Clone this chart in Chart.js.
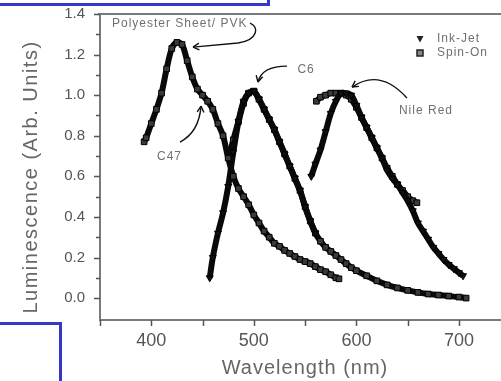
<!DOCTYPE html>
<html>
<head>
<meta charset="utf-8">
<script src="https://cdn.jsdelivr.net/npm/chart.js"></script>
<style>
  html, body { margin: 0; padding: 0; background: #fff; }
  #wrap { position: relative; width: 501px; height: 381px; overflow: hidden; }
  #chart { position: absolute; left: 0; top: 0; }
  .frame { position: absolute; background: #3636c8; }
</style>
</head>
<body>
<div id="wrap">
  <canvas id="chart" width="501" height="381"></canvas>
  <div class="frame" style="left:0;top:3px;width:270px;height:3px"></div>
  <div class="frame" style="left:267px;top:0;width:3px;height:6px"></div>
  <div class="frame" style="left:0;top:322px;width:62px;height:3px"></div>
  <div class="frame" style="left:59px;top:322px;width:3px;height:59px"></div>
</div>
<script>
// C47 on polyester sheet / PVK, spin-on
const c47Nm = [393, 395, 400, 405, 410, 415, 420, 425, 430, 435, 440, 445, 450, 455, 460, 465, 470, 475, 480, 485,
  490, 495, 500, 505, 510, 515, 520, 525, 530, 535, 540, 545, 550, 555, 560, 565, 570, 575, 580, 583];
const c47Lum = [0.77, 0.79, 0.86, 0.93, 1.01, 1.13, 1.23, 1.26, 1.25, 1.17, 1.09, 1.03, 1.00, 0.97, 0.93, 0.86, 0.80, 0.69, 0.60, 0.54,
  0.50, 0.46, 0.41, 0.37, 0.33, 0.30, 0.27, 0.255, 0.235, 0.22, 0.205, 0.19, 0.18, 0.17, 0.155, 0.14, 0.13, 0.115, 0.10, 0.095];

// C6, ink-jet
const c6InkNm = [457, 460, 465, 470, 475, 480, 485, 490, 495, 500, 505, 510, 515, 520, 525, 530, 535, 540, 545, 550, 555, 560];
const c6InkLum = [0.10, 0.20, 0.32, 0.42, 0.55, 0.72, 0.87, 0.97, 1.01, 1.02, 0.98, 0.93, 0.88, 0.83, 0.77, 0.71, 0.65, 0.59, 0.53, 0.45, 0.38, 0.32];

// C6, spin-on
const c6SpinNm = [476, 480, 485, 490, 495, 500, 505, 510, 515, 520, 525, 530, 535, 540, 545, 550, 555, 560, 565, 570,
  575, 580, 585, 590, 595, 600, 610, 620, 630, 640, 650, 660, 670, 680, 690, 700, 707];
const c6SpinLum = [0.70, 0.78, 0.87, 0.96, 1.01, 1.02, 0.98, 0.93, 0.88, 0.83, 0.77, 0.71, 0.65, 0.59, 0.53, 0.45, 0.38, 0.32, 0.28, 0.25,
  0.23, 0.21, 0.19, 0.17, 0.15, 0.135, 0.11, 0.085, 0.065, 0.05, 0.038, 0.028, 0.02, 0.015, 0.01, 0.005, 0.0];

// Nile Red, ink-jet
const nileInkNm = [556, 560, 565, 570, 575, 580, 585, 590, 595, 600, 605, 610, 615, 620, 625, 630, 635, 640, 645, 650,
  655, 660, 665, 670, 675, 680, 685, 690, 695, 700, 704];
const nileInkLum = [0.60, 0.66, 0.73, 0.82, 0.91, 0.97, 1.01, 1.01, 1.00, 0.95, 0.89, 0.84, 0.79, 0.74, 0.69, 0.63, 0.59, 0.56, 0.52, 0.48,
  0.43, 0.37, 0.33, 0.29, 0.25, 0.22, 0.19, 0.165, 0.145, 0.125, 0.11];

// Nile Red, spin-on
const nileSpinNm = [561, 565, 570, 575, 580, 585, 590, 595, 600, 605, 610, 615, 620, 625, 630, 635, 640, 645, 650, 655, 659];
const nileSpinLum = [0.97, 0.99, 1.00, 1.01, 1.01, 1.01, 1.00, 0.98, 0.94, 0.89, 0.84, 0.79, 0.74, 0.69, 0.64, 0.60, 0.56, 0.53, 0.50, 0.48, 0.47];

// axis ticks
const xMajorTicks = [400, 500, 600, 700];
const xMinorTicks = [350, 450, 550, 650];
const yMajorTicks = [0, 0.2, 0.4, 0.6, 0.8, 1.0, 1.2, 1.4];
const yMinorTicks = [0.1, 0.3, 0.5, 0.7, 0.9, 1.1, 1.3];

const FONT = '"Liberation Sans", Arial, Helvetica, sans-serif';
const AXIS_GRAY = '#7a7a7a';
const TEXT_GRAY = '#666';

// labels and curved arrows, in data units (nm, luminescence)
const notes = [
  { text: 'Polyester Sheet/ PVK', at: [361.7, 1.35],
    path: [[496.2, 1.355], [505.0, 1.341], [505.0, 1.272], [484.5, 1.257], [462.1, 1.247], [440.7, 1.237]] },
  { text: 'C47', at: [405.6, 0.695], path: [[428.0, 0.769], [446.5, 0.818], [448.5, 0.946]] },
  { text: 'C6', at: [542.5, 1.124], path: [[532.3, 1.143], [507.9, 1.143], [504.0, 1.065]] },
  { text: 'Nile Red', at: [641.5, 0.922], path: [[649.3, 0.986], [623.0, 1.134], [595.7, 1.04]] }
];

function series(label, nm, lum, inkJet) {
  return {
    label: label,
    data: nm.map((v, i) => ({ x: v, y: lum[i] })),
    showLine: true,
    borderColor: '#0a0a0a',
    borderWidth: 6,
    tension: 0.3,
    pointStyle: inkJet ? 'triangle' : 'rect',
    rotation: inkJet ? 180 : 0,
    pointRadius: 4,
    pointBorderWidth: 1,
    pointBorderColor: '#000',
    pointBackgroundColor: inkJet ? '#111' : '#3a3a3a'
  };
}

function arrow(ctx, pts) {
  ctx.beginPath();
  ctx.moveTo(pts[0][0], pts[0][1]);
  if (pts.length === 3) {
    ctx.quadraticCurveTo(pts[1][0], pts[1][1], pts[2][0], pts[2][1]);
  } else {
    ctx.bezierCurveTo(pts[1][0], pts[1][1], pts[2][0], pts[2][1], pts[3][0], pts[3][1]);
    ctx.quadraticCurveTo(pts[4][0], pts[4][1], pts[5][0], pts[5][1]);
  }
  ctx.stroke();
  const tip = pts[pts.length - 1], from = pts[pts.length - 2];
  const ang = Math.atan2(tip[1] - from[1], tip[0] - from[0]);
  ctx.beginPath();
  for (const d of [-0.5, 0.5]) {
    ctx.moveTo(tip[0], tip[1]);
    ctx.lineTo(tip[0] - 7 * Math.cos(ang + d), tip[1] - 7 * Math.sin(ang + d));
  }
  ctx.stroke();
}

const overlay = {
  id: 'overlay',
  afterDraw(chart) {
    const { ctx, chartArea: a, scales: { x, y } } = chart;
    ctx.save();

    // top frame line
    ctx.strokeStyle = AXIS_GRAY;
    ctx.lineWidth = 2;
    ctx.beginPath();
    ctx.moveTo(a.left - 2, a.top);
    ctx.lineTo(a.right, a.top);
    ctx.stroke();

    // tick marks, outside the frame
    ctx.strokeStyle = '#555';
    ctx.lineWidth = 1.5;
    ctx.beginPath();
    for (const v of yMajorTicks) {
      const py = Math.round(y.getPixelForValue(v)) + 0.5;
      ctx.moveTo(a.left - 6, py); ctx.lineTo(a.left, py);
    }
    for (const v of yMinorTicks) {
      const py = Math.round(y.getPixelForValue(v)) + 0.5;
      ctx.moveTo(a.left - 4, py); ctx.lineTo(a.left, py);
    }
    for (const v of xMajorTicks.concat(xMinorTicks)) {
      const px = Math.round(x.getPixelForValue(v)) + 0.5;
      ctx.moveTo(px, a.bottom); ctx.lineTo(px, a.bottom + 6);
    }
    ctx.stroke();

    // annotations
    ctx.font = '12px ' + FONT;
    ctx.letterSpacing = '1px';
    ctx.textBaseline = 'middle';
    ctx.textAlign = 'left';
    for (const n of notes) {
      ctx.fillStyle = '#707070';
      ctx.fillText(n.text, x.getPixelForValue(n.at[0]), y.getPixelForValue(n.at[1]));
      ctx.strokeStyle = '#111';
      ctx.lineWidth = 1.4;
      arrow(ctx, n.path.map(p => [x.getPixelForValue(p[0]), y.getPixelForValue(p[1])]));
    }

    // legend
    const lx = a.right - 81, ly = a.top + 25;
    ctx.fillStyle = '#222';
    ctx.beginPath();
    ctx.moveTo(lx - 3.5, ly - 3); ctx.lineTo(lx + 3.5, ly - 3); ctx.lineTo(lx, ly + 3.5);
    ctx.closePath();
    ctx.fill();
    ctx.fillStyle = '#888';
    ctx.fillRect(lx - 3, ly + 11, 6, 6);
    ctx.strokeStyle = '#222';
    ctx.lineWidth = 1.5;
    ctx.strokeRect(lx - 3, ly + 11, 6, 6);
    ctx.fillStyle = '#707070';
    ctx.fillText('Ink-Jet', lx + 17, ly);
    ctx.fillText('Spin-On', lx + 17, ly + 14);

    // axis titles
    ctx.fillStyle = TEXT_GRAY;
    ctx.textAlign = 'center';
    ctx.font = '20px ' + FONT;
    ctx.letterSpacing = '1px';
    ctx.fillText('Wavelength (nm)', 305, 368);
    ctx.translate(31, 177);
    ctx.rotate(-Math.PI / 2);
    ctx.letterSpacing = '1.5px';
    ctx.fillText('Luminescence (Arb. Units)', 0, 0);
    ctx.restore();
  }
};

new Chart(document.getElementById('chart').getContext('2d'), {
  type: 'scatter',
  data: {
    datasets: [
      series('Spin-On', c47Nm, c47Lum, false),
      series('Ink-Jet', c6InkNm, c6InkLum, true),
      series('Spin-On', c6SpinNm, c6SpinLum, false),
      series('Ink-Jet', nileInkNm, nileInkLum, true),
      series('Spin-On', nileSpinNm, nileSpinLum, false)
    ]
  },
  options: {
    responsive: false,
    animation: false,
    devicePixelRatio: 1,
    layout: { autoPadding: false, padding: { top: 14, right: 0, bottom: 0, left: 0 } },
    plugins: { legend: { display: false }, tooltip: { enabled: false } },
    scales: {
      x: {
        type: 'linear',
        min: 350,
        max: 741,
        afterBuildTicks: s => { s.ticks = xMajorTicks.map(v => ({ value: v })); },
        afterFit: s => { s.height = 61; s.paddingLeft = 0; s.paddingRight = 0; },
        grid: { drawOnChartArea: false, drawTicks: false },
        border: { color: AXIS_GRAY, width: 2 },
        ticks: { autoSkip: false, maxRotation: 0, padding: 10, color: '#555',
          font: { family: FONT, size: 18 }, callback: v => String(v) }
      },
      y: {
        min: -0.108,
        max: 1.4,
        afterBuildTicks: s => { s.ticks = yMajorTicks.map(v => ({ value: v })); },
        afterFit: s => { s.width = 100; s.paddingTop = 0; s.paddingBottom = 0; },
        grid: { drawOnChartArea: false, drawTicks: false },
        border: { color: AXIS_GRAY, width: 2 },
        ticks: { autoSkip: false, padding: 15, color: '#555',
          font: { family: FONT, size: 15 }, callback: v => v.toFixed(1) }
      }
    }
  },
  plugins: [overlay]
});
</script>
</body>
</html>
